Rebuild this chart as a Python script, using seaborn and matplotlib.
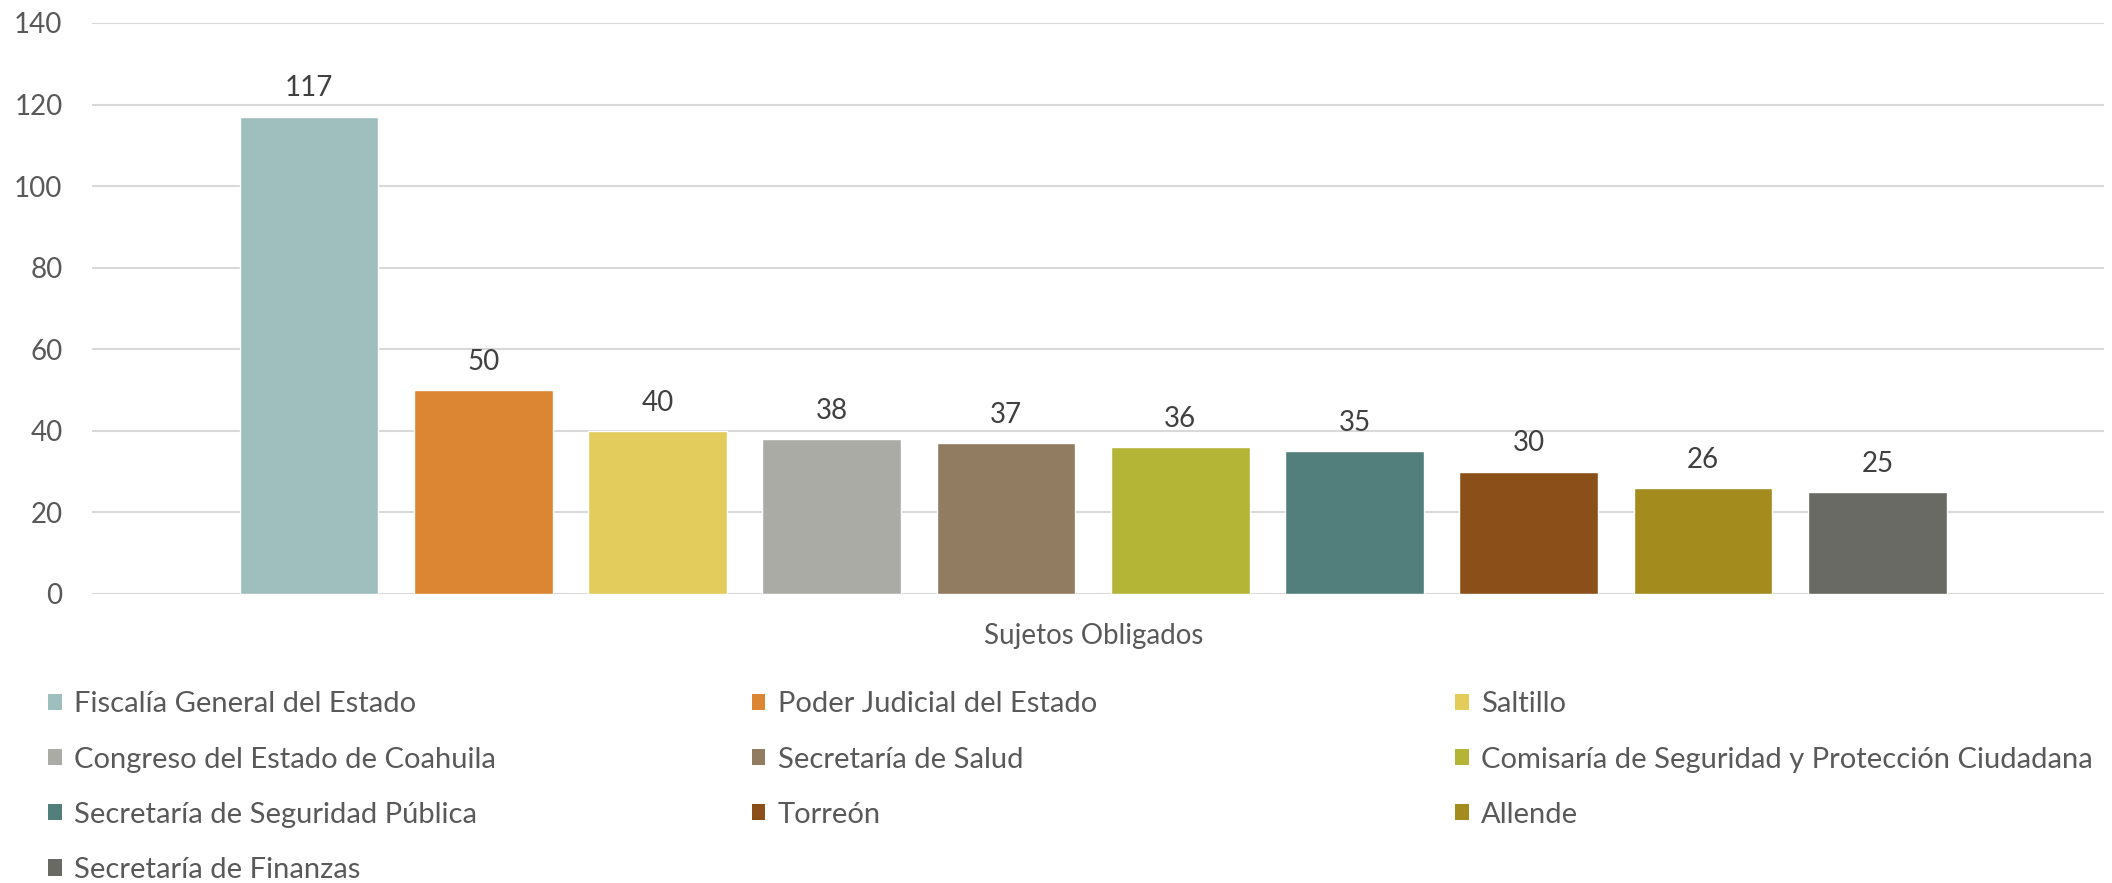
import matplotlib
matplotlib.use("Agg")
import matplotlib.pyplot as plt
import seaborn as sns
import pandas as pd
from matplotlib.patches import Patch

categories = ["Sujetos Obligados"]
sujetos = [
    "Fiscalía General del Estado",
    "Poder Judicial del Estado",
    "Saltillo",
    "Congreso del Estado de Coahuila",
    "Secretaría de Salud",
    "Comisaría de Seguridad y Protección Ciudadana",
    "Secretaría de Seguridad Pública",
    "Torreón",
    "Allende",
    "Secretaría de Finanzas",
]
values = [117, 50, 40, 38, 37, 36, 35, 30, 26, 25]
colors = ["#9FBEBE", "#DC8633", "#E3CC5B", "#ABABA6", "#917B61",
          "#B4B437", "#527E7C", "#8B5019", "#A48B1D", "#686A63"]
yticks = [0, 20, 40, 60, 80, 100, 120, 140]

sns.set_theme(style="white")
plt.rcParams["font.family"] = ["Lato", "DejaVu Sans"]

df = pd.DataFrame({"cat": categories * len(sujetos), "sujeto": sujetos, "valor": values})

fig = plt.figure(figsize=(21.12, 8.83), dpi=100)
ax = fig.add_axes([0.0434, 0.3273, 0.9528, 0.6467])

sns.barplot(data=df, x="cat", y="valor", hue="sujeto", hue_order=sujetos,
            palette=colors, width=0.866, gap=0.204, dodge=True, ax=ax,
            legend=False, saturation=1)

for cont in ax.containers:
    ax.bar_label(cont, fmt="%d", padding=11, fontsize=20, color="#404040")

ax.set_ylim(0, 140)
ax.set_xlim(-0.4977, 0.5023)
ax.set_yticks(yticks)
ax.yaxis.grid(True, color="#D9D9D9", linewidth=1.5)
ax.set_axisbelow(True)
for s in ax.spines.values():
    s.set_visible(False)
ax.tick_params(axis="y", length=0, pad=21, labelsize=20, labelcolor="#595959")
ax.tick_params(axis="x", length=0, pad=21, labelsize=20, labelcolor="#595959")
ax.set_xlabel("")
ax.set_ylabel("")

# Legend in three columns, row-major
handles = [Patch(facecolor=c, edgecolor="none") for c in colors]
col_x = [0.0227, 0.3559, 0.6890]
for ci in range(3):
    idx = list(range(ci, len(sujetos), 3))
    fig.legend([handles[i] for i in idx], [sujetos[i] for i in idx],
               loc="upper left", bbox_to_anchor=(col_x[ci], 0.217),
               frameon=False, fontsize=21, labelcolor="#595959",
               handlelength=0.47, handleheight=0.47, handletextpad=0.42,
               labelspacing=1.0, borderaxespad=0, borderpad=0)

fig.savefig("out.png", dpi=100)
